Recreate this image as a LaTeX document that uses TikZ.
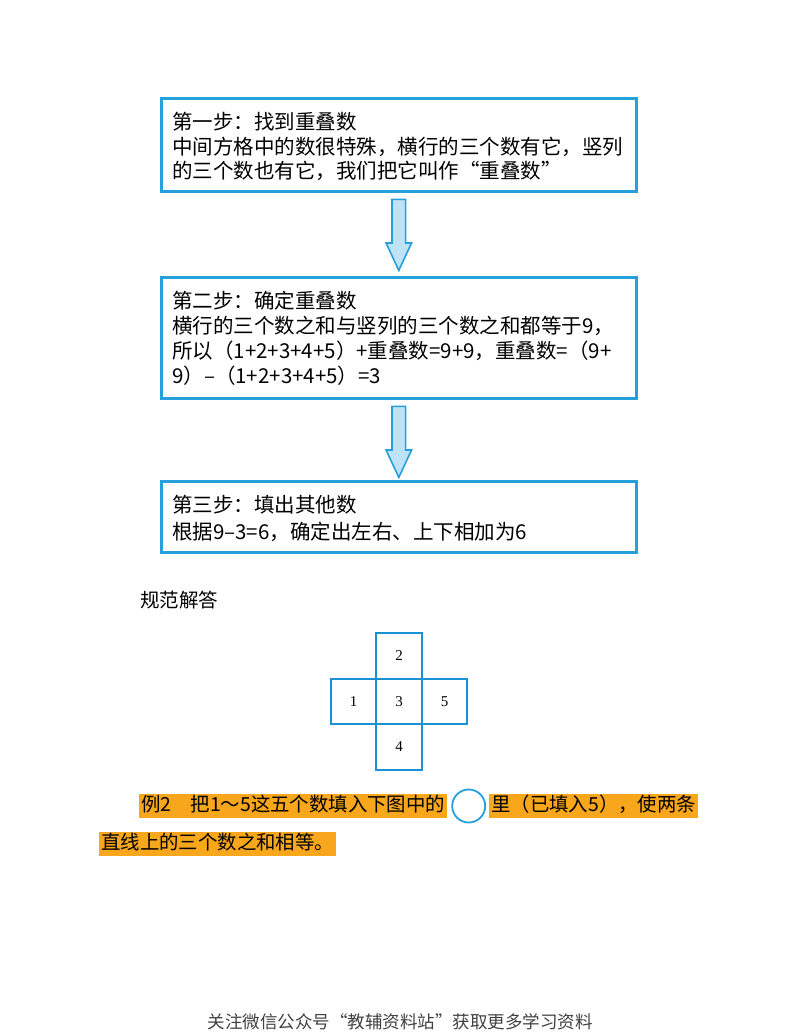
\documentclass[tikz,border=0pt]{standalone}
\usepackage{fontspec}
\newfontfamily\cjk{Noto Sans CJK SC}
\newfontfamily\numfont{Liberation Serif}
\usetikzlibrary{positioning,calc,shapes.arrows}
\definecolor{stpblue}{RGB}{38,160,218}
\definecolor{stpsoft}{RGB}{190,226,246}
\definecolor{cellblue}{RGB}{25,145,210}
\definecolor{hlorange}{RGB}{248,166,28}

\begin{document}
\begin{tikzpicture}[x=1pt,y=-1pt,
  stepbox/.style={draw=stpblue, line width=2.6pt, minimum width=475pt, anchor=north west, inner sep=0pt},
  steptext/.style={anchor=north west, align=left, inner sep=0pt},
  downarrow/.style={single arrow, draw=stpblue, fill=stpsoft, line width=1.6pt, rotate=-90,
    minimum height=71pt, inner sep=6pt, single arrow head extend=6pt, single arrow tip angle=50, anchor=tail},
  cell/.style={draw=cellblue, line width=1.8pt, minimum size=45.5pt, inner sep=0pt, outer sep=0pt,
    font=\numfont\fontsize{15}{17}\selectfont},
  hilite/.style={fill=hlorange, anchor=west, inner xsep=2pt, inner ysep=2.5pt, text height=15pt, text depth=4pt,
    font=\cjk\fontsize{19.4}{22}\selectfont}]
  \useasboundingbox (0,0) rectangle (800,1035);
  % ---- the three steps ----
  \node[stepbox, minimum height=93pt] (step1) at (160,97) {};
  \node[stepbox, minimum height=121pt] (step2) at (160,276) {};
  \node[stepbox, minimum height=71pt] (step3) at (160,480) {};
  \node[steptext, font=\cjk\fontsize{20.5}{24.5}\selectfont] (txt1) at (172,112)
    {第一步：找到重叠数\\中间方格中的数很特殊，横行的三个数有它，竖列\\的三个数也有它，我们把它叫作“重叠数”};
  \node[steptext, font=\cjk\fontsize{20.5}{25}\selectfont] (txt2) at (172,291)
    {第二步：确定重叠数\\横行的三个数之和与竖列的三个数之和都等于9，\\所以（1+2+3+4+5）+重叠数=9+9，重叠数=（9+\\9）–（1+2+3+4+5）=3};
  \node[steptext, font=\cjk\fontsize{20.5}{26.5}\selectfont] (txt3) at (172,495)
    {第三步：填出其他数\\根据9–3=6，确定出左右、上下相加为6};
  \node[downarrow] (arr1) at ($(step1.south)+(0,6)$) {};
  \node[downarrow] (arr2) at ($(step2.south)+(0,6)$) {};
  % ---- answer: the cross of cells ----
  \node[anchor=west, inner sep=0pt, font=\cjk\fontsize{19.5}{22}\selectfont] (answer) at (140,600) {规范解答};
  \node[cell] (mid) at (399,701.5) {3};
  \node[cell, above=0pt of mid] (top) {2};
  \node[cell, below=0pt of mid] (bot) {4};
  \node[cell, left=0pt of mid] (lft) {1};
  \node[cell, right=0pt of mid] (rgt) {5};
  % ---- example 2 (highlighted) ----
  \node[hilite] (ex1) at (139,806) {例2　把1～5这五个数填入下图中的};
  \node[circle, draw=stpblue, line width=1.8pt, minimum size=33pt, inner sep=0pt, right=4pt of ex1] (blank) {};
  \node[hilite, right=3pt of blank] (ex2) {里（已填入5），使两条};
  \node[hilite] (ex3) at (99,844) {直线上的三个数之和相等。};
  % ---- footer ----
  \node[font=\cjk\fontsize{17.5}{20}\selectfont, text=black!75] (foot) at (400,1022)
    {关注微信公众号“教辅资料站”获取更多学习资料};
\end{tikzpicture}
\end{document}
